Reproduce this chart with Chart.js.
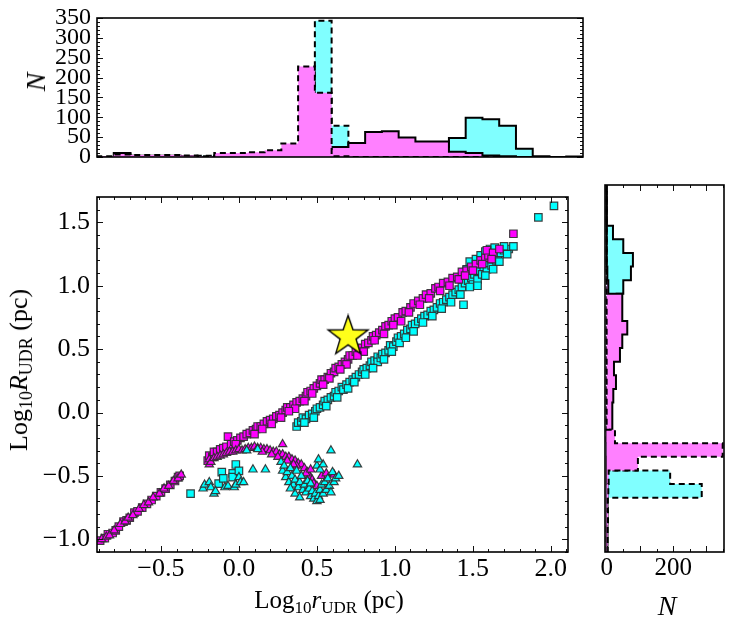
<!DOCTYPE html>
<html>
<head>
<meta charset="utf-8">
<script src="https://cdn.jsdelivr.net/npm/chart.js@4.4.1/dist/chart.umd.min.js"></script>
<style>
  body { margin:0; background:#fff; width:747px; height:628px; position:relative; overflow:hidden;
         font-family:'Liberation Serif','DejaVu Serif',serif; color:#000; }
  .panel { position:absolute; }
  .ttl { position:absolute; font-size:25px; white-space:nowrap; transform:translate(-50%,-50%); line-height:1; }
  .ttl sub { font-size:17px; vertical-align:-5px; line-height:0; }
  .rot { transform:translate(-50%,-50%) rotate(-90deg); }
</style>
</head>
<body>
<div class="panel" style="left:0;top:0"><canvas id="vb-top" width="590" height="175"></canvas></div>
<div class="panel" style="left:0;top:175px"><canvas id="vb-main" width="590" height="453"></canvas></div>
<div class="panel" style="left:595px;top:175px"><canvas id="vb-right" width="152" height="453"></canvas></div>

<div class="ttl rot" style="left:36px;top:82px;font-size:28px"><i>N</i></div>
<div class="ttl rot" style="left:19px;top:370px;font-size:26px">Log<sub style="font-size:18px">10</sub><i>R</i><sub style="font-size:18px">UDR</sub> (pc)</div>
<div class="ttl" style="left:329px;top:599px">Log<sub>10</sub><i>r</i><sub>UDR</sub> (pc)</div>
<div class="ttl" style="left:667px;top:606px;font-size:28px"><i>N</i></div>

<script>
(function() {
    'use strict';

    /* ── Axis ranges / tick labels ── */
    var X_MIN = -0.91, X_MAX = 2.11;
    var Y_MIN = -1.1,  Y_MAX = 1.7;
    var mainXTicks  = [-0.5, 0, 0.5, 1, 1.5, 2];
    var mainYTicks  = [-1, -0.5, 0, 0.5, 1, 1.5];
    var topNTicks   = [0, 50, 100, 150, 200, 250, 300, 350];
    var rightNTicks = [0, 200];

    /* ── Top histogram: counts per bin of log r (29 bins over the x range) ── */
    var magTriX = [2,6,5,5,5,4,2,10,10,12,17,34,228,162,2,0,0,0,0,0,0,0,0,0,0,0,0,0,0];
    var cyaTriX = [0,0,0,0,0,1,3,2,3,2,1,2,30,343,79,3,1,0,0,0,0,0,0,0,0,0,0,0,0];
    var magSqX  = [0,10,3,3,3,2,0,4,6,7,9,12,15,20,25,35,63,65,49,39,39,13,10,4,2,0,0,0,0];
    var cyaSqX  = [0,0,0,0,0,0,0,0,0,0,0,0,0,0,10,20,30,30,30,25,25,48,99,95,79,21,2,0,1];

    /* ── Right histogram: counts per bin of log R (27 bins over the y range) ── */
    var magTriY = [3,3,4,3,5,6,94,349,25,0,0,0,0,0,0,0,0,0,0,0,0,0,0,0,0,0,0];
    var cyaTriY = [0,0,1,3,286,191,10,5,0,0,0,0,0,0,0,0,0,0,0,0,0,0,0,0,0,0,0];
    var magSqY  = [2,3,3,2,2,1,1,2,10,17,17,20,28,22,40,47,62,47,47,5,2,0,0,0,0,0,0];
    var cyaSqY  = [0,0,0,0,0,1,0,0,0,3,5,8,10,10,15,20,25,25,30,50,73,79,50,19,0,0,0];

    /* ── Scatter points [log r, log R] ── */
    var magSq = [
        [-0.89,-1.01],[-0.86,-0.99],[-0.84,-0.96],[-0.81,-0.95],[-0.79,-0.93],[-0.77,-0.90],[-0.74,-0.86],
        [-0.72,-0.85],[-0.70,-0.83],[-0.67,-0.79],[-0.65,-0.78],[-0.62,-0.75],[-0.59,-0.72],[-0.56,-0.69],
        [-0.53,-0.66],[-0.50,-0.63],[-0.47,-0.60],[-0.44,-0.57],[-0.41,-0.54],[-0.39,-0.51],[-0.38,-0.50],
        [-0.20,-0.38],[-0.19,-0.34],[-0.17,-0.35],[-0.16,-0.31],[-0.14,-0.31],[-0.12,-0.29],[-0.10,-0.28],
        [-0.08,-0.27],[-0.07,-0.19],[-0.05,-0.25],[-0.03,-0.23],[-0.01,-0.22],[0.01,-0.20],[0.03,-0.19],
        [0.05,-0.17],[0.07,-0.16],[0.09,-0.14],[0.11,-0.13],[0.12,-0.11],[0.14,-0.11],[0.16,-0.09],
        [0.18,-0.07],[0.20,-0.06],[0.22,-0.05],[0.24,-0.03],[0.26,-0.02],[0.28,0.00],[0.30,0.02],
        [0.31,0.04],[0.33,0.04],[0.35,0.06],[0.37,0.08],[0.39,0.09],[0.41,0.11],[0.43,0.13],[0.44,0.16],
        [0.46,0.17],[0.48,0.19],[0.50,0.21],[0.52,0.23],[0.53,0.26],[0.55,0.26],[0.57,0.28],[0.59,0.31],
        [0.61,0.32],[0.62,0.35],[0.64,0.36],[0.66,0.38],[0.68,0.40],[0.70,0.42],[0.71,0.45],[0.73,0.45],
        [0.75,0.48],[0.77,0.49],[0.79,0.51],[0.81,0.54],[0.83,0.55],[0.85,0.57],[0.86,0.60],[0.88,0.61],
        [0.90,0.63],[0.92,0.65],[0.94,0.68],[0.96,0.69],[0.98,0.72],[1.00,0.74],[1.02,0.75],[1.05,0.79],
        [1.07,0.80],[1.10,0.83],[1.12,0.86],[1.15,0.88],[1.18,0.90],[1.20,0.93],[1.23,0.94],[1.26,0.98],
        [1.28,0.99],[1.31,1.02],[1.34,1.03],[1.37,1.06],[1.40,1.07],[1.43,1.11],[1.46,1.12],[1.49,1.15],
        [1.52,1.17],[1.55,1.20],[1.58,1.22],[1.60,1.24],[1.59,1.28],[1.63,1.26],[1.67,1.29],[1.76,1.41],
        [0.15,-0.13],[0.27,-0.04],[0.36,0.03],[0.47,0.15],[0.58,0.27],[0.69,0.38],[0.80,0.48],[0.93,0.62],
        [1.04,0.72],[1.16,0.85],[1.29,0.96],[1.41,1.05],[1.50,1.12],
        [-0.02,-0.25],[0.10,-0.17],[0.21,-0.09],[0.32,0.01],[0.42,0.09],[0.54,0.22],[0.65,0.34],[0.76,0.45],
        [0.87,0.57],[0.99,0.69],[1.09,0.79],[1.22,0.90],[1.35,1.00],[1.45,1.08],[1.56,1.17],[1.62,1.21]
    ];
    var cyaSq = [
        [0.37,-0.11],[0.38,-0.08],[0.40,-0.07],[0.41,-0.04],[0.43,-0.05],[0.45,-0.02],[0.47,-0.01],[0.49,0.01],
        [0.50,0.03],[0.52,0.04],[0.54,0.06],[0.55,0.09],[0.57,0.10],[0.59,0.12],[0.61,0.13],[0.62,0.16],
        [0.64,0.17],[0.66,0.20],[0.67,0.18],[0.69,0.22],[0.71,0.24],[0.73,0.26],[0.75,0.28],[0.77,0.30],
        [0.79,0.32],[0.80,0.34],[0.82,0.35],[0.84,0.37],[0.85,0.40],[0.87,0.41],[0.89,0.44],[0.89,0.40],
        [0.91,0.43],[0.92,0.46],[0.94,0.47],[0.96,0.49],[0.97,0.53],[0.99,0.52],[1.01,0.56],[1.02,0.59],
        [1.04,0.60],[1.06,0.62],[1.08,0.65],[1.10,0.66],[1.11,0.69],[1.13,0.70],[1.15,0.72],[1.17,0.74],
        [1.19,0.76],[1.21,0.77],[1.23,0.80],[1.25,0.81],[1.27,0.83],[1.29,0.86],[1.31,0.87],[1.33,0.89],
        [1.35,0.91],[1.37,0.93],[1.39,0.95],[1.41,0.97],[1.43,0.99],[1.44,0.85],[1.45,1.02],[1.47,1.04],
        [1.49,1.06],[1.50,1.01],[1.51,1.09],[1.53,1.05],[1.54,1.12],[1.56,1.09],[1.57,1.15],[1.59,1.13],
        [1.60,1.18],[1.62,1.16],[1.63,1.21],[1.65,1.20],[1.66,1.24],[1.68,1.26],[1.70,1.28],[1.73,1.29],
        [1.76,1.31],[1.46,1.13],[1.48,1.19],[1.52,1.21],[1.55,1.24],[1.58,1.27],[1.61,1.29],[1.64,1.30],
        [1.70,1.31],[1.92,1.54],[2.02,1.63],
        [0.42,-0.08],[0.48,-0.04],[0.56,0.05],[0.63,0.12],[0.70,0.19],[0.74,0.24],[0.81,0.30],[0.86,0.35],
        [0.93,0.42],[0.98,0.48],[1.03,0.55],[1.07,0.59],[1.12,0.64],[1.18,0.71],[1.24,0.76],[1.30,0.82],
        [1.36,0.87],[1.42,0.93],[1.48,0.99],[1.53,1.00],[1.58,1.08],[1.63,1.13],[1.67,1.19],[1.72,1.25],
        [-0.31,-0.64],[-0.13,-0.56],[-0.11,-0.47],[-0.04,-0.48],[-0.04,-0.51],[-0.02,-0.41],[0.00,-0.46],[-0.10,-0.52]
    ];
    var magTri = [
        [-0.88,-1.00],[-0.85,-0.98],[-0.83,-0.97],[-0.80,-0.93],[-0.76,-0.88],[-0.73,-0.86],[-0.71,-0.83],
        [-0.68,-0.81],[-0.64,-0.76],[-0.61,-0.73],[-0.58,-0.71],[-0.55,-0.67],[-0.51,-0.64],[-0.48,-0.60],
        [-0.45,-0.58],[-0.42,-0.54],[-0.39,-0.52],[-0.37,-0.49],
        [-0.19,-0.41],[-0.19,-0.37],[-0.18,-0.39],[-0.16,-0.36],[-0.14,-0.35],[-0.12,-0.34],[-0.10,-0.33],
        [-0.08,-0.32],[-0.06,-0.31],[-0.04,-0.31],[-0.02,-0.30],[0.00,-0.29],[0.02,-0.30],[0.04,-0.29],
        [0.06,-0.28],[0.08,-0.28],[0.10,-0.27],[0.12,-0.28],[0.14,-0.28],[0.16,-0.29],[0.18,-0.29],
        [0.20,-0.30],[0.22,-0.31],[0.24,-0.31],[0.26,-0.33],[0.28,-0.25],[0.28,-0.33],[0.30,-0.35],
        [0.32,-0.35],[0.34,-0.37],[0.36,-0.38],[0.38,-0.40],[0.40,-0.41],[0.42,-0.44],[0.44,-0.47],
        [0.45,-0.50],[0.47,-0.53],[0.48,-0.56],[0.50,-0.58],[0.53,-0.50],[0.56,-0.48],[0.61,-0.49],
        [0.21,-0.33],[0.31,-0.38],[0.37,-0.42],[0.43,-0.48],[0.46,-0.45],[0.35,-0.41],[0.25,-0.35],[0.15,-0.31]
    ];
    var cyaTri = [
        [-0.23,-0.60],[-0.22,-0.57],[-0.19,-0.55],[-0.18,-0.59],[-0.16,-0.64],[-0.15,-0.62],[-0.09,-0.59],
        [-0.07,-0.58],[-0.03,-0.59],[-0.02,-0.57],[0.00,-0.51],[0.01,-0.55],[0.03,-0.55],[0.09,-0.45],
        [0.17,-0.45],[0.05,-0.30],[0.12,-0.29],
        [0.27,-0.39],[0.28,-0.46],[0.29,-0.42],[0.30,-0.51],[0.31,-0.47],[0.32,-0.55],[0.33,-0.44],
        [0.34,-0.50],[0.35,-0.57],[0.36,-0.53],[0.37,-0.46],[0.38,-0.59],[0.39,-0.55],[0.40,-0.50],
        [0.41,-0.61],[0.42,-0.57],[0.43,-0.63],[0.44,-0.54],[0.45,-0.60],[0.46,-0.66],[0.47,-0.62],
        [0.48,-0.68],[0.49,-0.64],[0.50,-0.70],[0.51,-0.66],[0.52,-0.61],[0.52,-0.69],[0.53,-0.57],
        [0.54,-0.64],[0.55,-0.55],[0.56,-0.61],[0.57,-0.52],[0.58,-0.58],[0.59,-0.63],[0.60,-0.47],
        [0.61,-0.55],[0.62,-0.52],[0.64,-0.50],[0.50,-0.42],[0.52,-0.45],[0.54,-0.41],[0.51,-0.37],
        [0.59,-0.30],[0.76,-0.41],[0.36,-0.64],[0.39,-0.67],[0.33,-0.60],[0.46,-0.56]
    ];
    var starPt = [[0.70, 0.60]];

    /* ── Colours ── */
    var MAG = '#FF00FF', CYA = '#00FFFF', MAG_F = '#FF80FF', CYA_F = '#80FFFF';
    var FONT = "'Liberation Serif', 'DejaVu Serif', serif";

    /* ── Helpers ── */
    function fmt1(v) { return (v < 0 ? '\u2212' : '') + Math.abs(v).toFixed(1); }
    function steps(a, b, s) { var out = []; for (var v = a; v <= b + 1e-9; v += s) out.push(+v.toFixed(4)); return out; }

    // closed step outline along x, from bin edges
    function stepX(counts, lo, hi) {
        var w = (hi - lo) / counts.length, pts = [[lo, 0]];
        for (var i = 0; i < counts.length; i++) {
            pts.push([lo + i * w, counts[i]]);
            pts.push([lo + (i + 1) * w, counts[i]]);
        }
        pts.push([hi, 0]);
        return pts;
    }
    // same, for a sideways histogram (count on x)
    function stepY(counts, lo, hi) {
        return stepX(counts, lo, hi).map(function(p) { return [p[1], p[0]]; });
    }

    function starImage(r) {
        var c = document.createElement('canvas'), s = Math.ceil(r * 2 + 4);
        c.width = s; c.height = s;
        var g = c.getContext('2d');
        g.beginPath();
        for (var i = 0; i < 10; i++) {
            var rad = i % 2 ? r * 0.4 : r, ang = -Math.PI / 2 + i * Math.PI / 5;
            g.lineTo(s / 2 + rad * Math.cos(ang), s / 2 + rad * Math.sin(ang));
        }
        g.closePath();
        g.fillStyle = '#FFFF1A'; g.fill();
        g.lineWidth = 1.4; g.strokeStyle = '#000'; g.stroke();
        return c;
    }

    /* ── Inward ticks + frame ── */
    var frameTicks = {
        id: 'frameTicks',
        afterDraw: function(chart, args, o) {
            var ctx = chart.ctx, a = chart.chartArea;
            ctx.save();
            ctx.strokeStyle = '#111';
            ctx.lineWidth = 1;
            function xt(list, len) {
                list.forEach(function(v) {
                    var p = Math.round(chart.scales.x.getPixelForValue(v)) + 0.5;
                    ctx.beginPath();
                    ctx.moveTo(p, a.bottom); ctx.lineTo(p, a.bottom - len);
                    ctx.moveTo(p, a.top);    ctx.lineTo(p, a.top + len);
                    ctx.stroke();
                });
            }
            function yt(list, len) {
                list.forEach(function(v) {
                    var p = Math.round(chart.scales.y.getPixelForValue(v)) + 0.5;
                    ctx.beginPath();
                    ctx.moveTo(a.left, p);  ctx.lineTo(a.left + len, p);
                    ctx.moveTo(a.right, p); ctx.lineTo(a.right - len, p);
                    ctx.stroke();
                });
            }
            if (o.xMinor) xt(o.xMinor, 3);
            if (o.xMajor) xt(o.xMajor, 6);
            if (o.yMinor) yt(o.yMinor, 3);
            if (o.yMajor) yt(o.yMajor, 6);
            ctx.lineWidth = 1.6;
            ctx.strokeStyle = '#000';
            ctx.strokeRect(a.left, a.top, a.right - a.left, a.bottom - a.top);
            ctx.restore();
        }
    };

    function histSet(pts, fillColor, dashed, order) {
        return {
            data: pts, showLine: true, fill: 'shape', backgroundColor: fillColor,
            borderColor: '#000', borderWidth: 2, borderDash: dashed ? [6, 4] : [],
            pointRadius: 0, pointHoverRadius: 0, order: order
        };
    }
    function dotSet(pts, color, style, r, order) {
        return {
            data: pts, pointStyle: style, pointRadius: r, backgroundColor: color,
            borderColor: 'rgba(45,45,45,0.9)', borderWidth: 1.2, order: order
        };
    }
    function fixTicks(list) { return function(s) { s.ticks = list.map(function(v) { return { value: v }; }); }; }

    var base = {
        responsive: false, animation: false, events: [],
        plugins: { legend: { display: false }, tooltip: { enabled: false } }
    };
    function opts(extra) { return Object.assign({}, base, extra); }

    /* ── Top histogram ── */
    new Chart(document.getElementById('vb-top'), {
        type: 'scatter',
        data: { datasets: [
            histSet(stepX(cyaSqX,  X_MIN, X_MAX), CYA_F, false, 3),
            histSet(stepX(cyaTriX, X_MIN, X_MAX), CYA_F, true,  2),
            histSet(stepX(magSqX,  X_MIN, X_MAX), MAG_F, false, 1),
            histSet(stepX(magTriX, X_MIN, X_MAX), MAG_F, true,  0)
        ]},
        options: opts({
            layout: { padding: { top: 16, right: 7, bottom: 13, left: 0 } },
            scales: {
                x: { type: 'linear', min: X_MIN, max: X_MAX, display: false },
                y: { type: 'linear', min: 0, max: 350,
                     afterBuildTicks: fixTicks(topNTicks),
                     afterFit: function(s) { s.width = 97; },
                     grid: { display: false, drawTicks: false }, border: { display: false },
                     ticks: { autoSkip: false, padding: 6, color: '#000',
                              font: { family: FONT, size: 24, lineHeight: 1 } } }
            },
            plugins: Object.assign({}, base.plugins, {
                frameTicks: { yMajor: topNTicks, yMinor: steps(0, 350, 10) }
            })
        }),
        plugins: [frameTicks]
    });

    /* ── Main scatter ── */
    new Chart(document.getElementById('vb-main'), {
        type: 'scatter',
        data: { datasets: [
            dotSet(cyaSq,  CYA, 'rect', 5.3, 4),
            dotSet(magSq,  MAG, 'rect', 5.3, 3),
            dotSet(magTri, MAG, 'triangle', 4.8, 2),
            dotSet(cyaTri, CYA, 'triangle', 4.8, 1),
            { data: starPt, pointStyle: starImage(21), pointRadius: 21, order: 0 }
        ]},
        options: opts({
            layout: { padding: { top: 10, right: 7, bottom: 0, left: 0 } },
            scales: {
                x: { type: 'linear', min: X_MIN, max: X_MAX,
                     afterBuildTicks: fixTicks(mainXTicks),
                     afterFit: function(s) { s.height = 76; },
                     grid: { display: false, drawTicks: false }, border: { display: false },
                     ticks: { autoSkip: false, maxRotation: 0, padding: 4, color: '#000',
                              font: { family: FONT, size: 26, lineHeight: 1 }, callback: fmt1 } },
                y: { type: 'linear', min: Y_MIN, max: Y_MAX,
                     afterBuildTicks: fixTicks(mainYTicks),
                     afterFit: function(s) { s.width = 97; },
                     grid: { display: false, drawTicks: false }, border: { display: false },
                     ticks: { autoSkip: false, padding: 7, color: '#000',
                              font: { family: FONT, size: 26, lineHeight: 1 }, callback: fmt1 } }
            },
            plugins: Object.assign({}, base.plugins, {
                frameTicks: { xMajor: mainXTicks, xMinor: steps(-0.9, 2.1, 0.1),
                              yMajor: mainYTicks, yMinor: steps(-1.1, 1.7, 0.1) }
            })
        }),
        plugins: [frameTicks]
    });

    /* ── Right histogram ── */
    new Chart(document.getElementById('vb-right'), {
        type: 'scatter',
        data: { datasets: [
            histSet(stepY(cyaSqY,  Y_MIN, Y_MAX), CYA_F, false, 3),
            histSet(stepY(cyaTriY, Y_MIN, Y_MAX), CYA_F, true,  2),
            histSet(stepY(magSqY,  Y_MIN, Y_MAX), MAG_F, false, 1),
            histSet(stepY(magTriY, Y_MIN, Y_MAX), MAG_F, true,  0)
        ]},
        options: opts({
            layout: { padding: { top: 10, right: 23, bottom: 0, left: 10 } },
            scales: {
                x: { type: 'linear', min: -5, max: 353,
                     afterBuildTicks: fixTicks(rightNTicks),
                     afterFit: function(s) { s.height = 76; },
                     grid: { display: false, drawTicks: false }, border: { display: false },
                     ticks: { autoSkip: false, maxRotation: 0, padding: 4, color: '#000',
                              font: { family: FONT, size: 25, lineHeight: 1 } } },
                y: { type: 'linear', min: Y_MIN, max: Y_MAX, display: false }
            },
            plugins: Object.assign({}, base.plugins, {
                frameTicks: { xMajor: [0, 100, 200, 300], xMinor: [50, 150, 250, 350] }
            })
        }),
        plugins: [frameTicks]
    });
})();
</script>
</body>
</html>
